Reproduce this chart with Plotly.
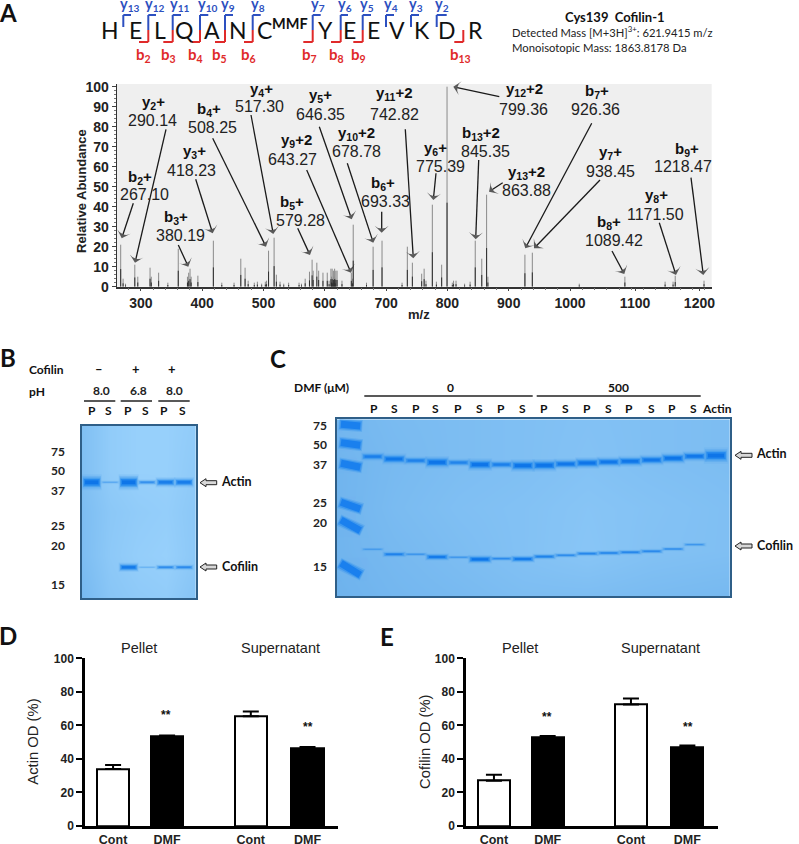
import plotly.graph_objects as go

W, H = 799, 844
ARIAL = "Liberation Sans"
CAL = "Lato"
BLUE = "#2d50c0"
RED = "#e02a2a"

# ---------- data: MS/MS spectrum ----------
peak_mz = [267.1, 271, 275, 290.14, 295, 315, 317, 329, 344, 361, 376, 378, 380.19, 382, 393, 418.23, 432, 452, 463, 470,
           475, 485, 490, 497, 503, 505, 508.25, 517.3, 521, 527, 533, 541, 558, 562, 568, 575, 579.28, 581, 587, 590,
           597, 604, 607, 610, 611, 612, 613, 614, 615, 616, 617, 618, 620, 628, 643.27, 645, 646.35, 668, 678.78, 693.33,
           726, 734.6, 742.82, 758, 762, 765, 775.39, 782, 790.6, 799.36, 808, 810, 814, 828, 837, 845.35, 856, 863.88, 866,
           926.36, 938.45, 1015, 1089.42, 1155, 1168, 1171.5, 1218.47]
peak_int = [21, 4, 1.5, 11, 5, 9.5, 5, 7, 2, 19, 5, 7, 9, 5, 5.5, 23, 2, 2, 14, 9.5,
            3, 2, 2.5, 1.5, 2.5, 3, 18, 24.5, 6, 2.5, 1.5, 2, 2, 1.5, 4, 7.5, 13.5, 8, 12, 8,
            7, 7, 3, 9, 5, 9, 4, 8, 5, 9, 4, 8, 8, 3, 7, 4, 31, 2, 20, 23,
            2, 20, 12, 6.5, 9, 3, 41, 2.5, 11, 100, 2, 3, 3, 1.5, 2.5, 23, 14, 46, 5,
            16, 17, 1.5, 5, 2.5, 2.5, 5.5, 3]
spec_tick_labels = ["300", "400", "500", "600", "700", "800", "900", "1000", "1100", "1200"]
spec_tick_vals = [300, 400, 500, 600, 700, 800, 900, 1000, 1106, 1211]
spec_y_ticks = [0, 10, 20, 30, 40, 50, 60, 70, 80, 90, 100]

# ---------- data: gels ----------
gel_b_actin = [1.0, 0.1, 1.0, 0.3, 0.6, 0.62]
gel_b_cofilin = [0, 0, 0.7, 0.05, 0.35, 0.38]
gel_b_actin_pos = 56.3
gel_b_cofilin_pos = 141.3
gel_b_bg = [[.55, .85, .95, .95, .85], [.55, .85, .95, .95, .8], [.5, .75, .85, .9, .75], [.5, .78, .9, .95, .75], [.4, .7, .8, .85, .65]]
gel_c_actin_pos = [37.3, 39.7, 41.3, 43, 43.3, 45.3, 45.3, 46.3, 46, 44.7, 43.7, 42.7, 42, 40.7, 39, 37, 36.3]
gel_c_actin = [.55, .8, .5, 1, .45, 1, .55, 1, 1, .75, .85, .75, .8, .75, .85, .75, 1.5]
gel_c_cofilin_pos = [130, 135, 135, 137.7, 138, 140, 139.3, 139.7, 137.3, 136, 134.3, 133.7, 133, 132, 129.7, 125.3]
gel_c_cofilin = [.15, .5, .22, .7, .2, .85, .35, .7, .5, .35, .42, .42, .42, .38, .3, .22]
ladder_left = [5, 23.3, 44, 83, 100.7, 144]
ladder_right = [6.7, 26, 48, 89.7, 111.3, 155.7]
gel_c_bg = [[.35, .45, .5, .55, .6, .55, .5],
            [.3, .42, .5, .55, .62, .55, .5],
            [.3, .45, .55, .6, .68, .62, .55],
            [.3, .4, .5, .6, .7, .6, .55],
            [.25, .35, .42, .5, .5, .45, .4]]
mw_b = ["75", "50", "37", "25", "20", "15"]
mw_c = ["75", "50", "37", "25", "20", "15"]
lane_labels_b = ["P", "S", "P", "S", "P", "S"]
lane_labels_c = ["P", "S", "P", "S", "P", "S", "P", "S", "P", "S", "P", "S", "P", "S", "P", "S", "Actin"]

# ---------- data: bar charts ----------
bar_labels = ["Cont", "DMF", "Cont", "DMF"]
bar_pos = [0, 1, 2.55, 3.6]
actin_od = [34, 53.5, 65.5, 46.5]
actin_err = [2.3, 0.5, 2.8, 0.6]
cofilin_od = [27, 53, 72.5, 47]
cofilin_err = [3.5, 0.7, 3.5, 1]
od_ticks = [0, 20, 40, 60, 80, 100]

# ---------- helpers ----------
def fx(x): return x / W
def fy(y): return 1 - y / H

ann = []
segs = {}

def txt(x, y, s, size=13, font=ARIAL, color="#111", anchor="center", angle=0):
    ann.append(dict(x=fx(x), y=fy(y), xref="paper", yref="paper", text=s, showarrow=False, textangle=angle,
                    xanchor=anchor, yanchor="middle", borderpad=0, borderwidth=0,
                    font=dict(size=size, family=font, color=color)))

def seg(x0, y0, x1, y1, color="#111", width=1.5):
    xs, ys = segs.setdefault((color, width), ([], []))
    xs += [x0, x1, None]; ys += [y0, y1, None]

def dom_x(a, b): return [fx(a), fx(b)]
def dom_y(top, bot): return [fy(bot), fy(top)]

fig = go.Figure()

# overlay axis in page pixels for the figure's decorations
def over(**kw):
    fig.add_trace(go.Scatter(xaxis="x6", yaxis="y6", showlegend=False, hoverinfo="skip", **kw))

def arrow(tail, tip):
    over(x=[tail[0], tip[0]], y=[tail[1], tip[1]], mode="lines+markers", line=dict(color="#1a1a1a", width=1.3),
         marker=dict(symbol="arrow-wide", size=[0, 10], angleref="previous", color="#1a1a1a", line=dict(width=0)))

def hollow(x0, x1, y):
    over(x=[x0, x0 + 6, x0 + 6, x1, x1, x0 + 6, x0 + 6, x0], y=[y, y - 4, y - 2, y - 2, y + 2, y + 2, y + 4, y],
         mode="lines", fill="toself", fillcolor="#d8d8d8", line=dict(color="#222", width=1))

# ---------- A: sequence ----------
for s, x in zip(["H", "E", "L", "Q", "A", "N", "C", "Y", "E", "E", "V", "K", "D", "R"],
                [110, 135.7, 160, 184, 211.7, 238, 264, 325, 349, 373.3, 397, 422, 447, 475]):
    txt(x, 30, s, 23, CAL, "#111")
txt(290, 23, "<b>MMF</b>", 14.5, CAL)
for x, r, l in [(148.3, 156, 139), (172.7, 181, 163.3), (200, 208.3, 191.7), (225, 233, 215), (252.7, 260.7, 244),
                (312.7, 320.7, 303.3), (340.7, 348, 331), (362.7, 371, 353.3)]:
    seg(x, 15, x, 30, BLUE, 2); seg(x, 15, r, 15, BLUE, 2)
    seg(x, 30, x, 42, RED, 2); seg(x, 42, l, 42, RED, 2)
for x, r in [(123.3, 131), (386, 394), (411, 419), (436.7, 446.7)]:
    seg(x, 15, x, 27, BLUE, 2); seg(x, 15, r, 15, BLUE, 2)
seg(463.3, 30, 463.3, 42, RED, 2); seg(463.3, 42, 454.3, 42, RED, 2)
for n, x in zip(["13", "12", "11", "10", "9", "8", "7", "6", "5", "4", "3", "2"],
                [130, 155, 180, 207.7, 228.3, 258.3, 317.7, 345, 366.7, 390.7, 416, 442.3]):
    txt(x, 4.5, f"<b>y<sub>{n}</sub></b>", 14.5, CAL, BLUE)
for n, x in zip(["2", "3", "4", "5", "6", "7", "8", "9", "13"],
                [143.3, 168.3, 195, 219.3, 248.3, 309, 336.7, 358.3, 460]):
    txt(x, 55, f"<b>b<sub>{n}</sub></b>", 15, CAL, RED)
txt(615, 16.7, "<b>Cys139  Cofilin-1</b>", 13, CAL)
txt(511.7, 32, "Detected Mass [M+3H]<sup>3+</sup>: 621.9415 m/z", 11.2, CAL, "#222", "left")
txt(511.7, 47.7, "Monoisotopic Mass: 1863.8178 Da", 11.3, CAL, "#222", "left")

# ---------- A: spectrum ----------
xs, ys, xd, yd = [], [], [], []
for m, v in zip(peak_mz, peak_int):
    xs += [m, m, None]; ys += [0, v, None]
    xd += [m, m, None]; yd += [0, v * 0.42, None]
fig.add_trace(go.Scatter(x=xs, y=ys, mode="lines", line=dict(color="#8a8a8a", width=1), xaxis="x", yaxis="y",
                         showlegend=False, hoverinfo="skip"))
fig.add_trace(go.Scatter(x=xd, y=yd, mode="lines", line=dict(color="#2e2e2e", width=1), xaxis="x", yaxis="y",
                         showlegend=False, hoverinfo="skip"))

labels = [
    ("y<sub>2</sub>+", "290.14", (153.3, 102.3), (152.7, 120), (166, 129.3), (135, 262.7)),
    ("b<sub>2</sub>+", "267.10", (140, 177.7), (144, 194.3), (133.3, 203.3), (121.7, 238.3)),
    ("b<sub>3</sub>+", "380.19", (176, 217.7), (180, 235.7), (178.3, 245), (188.3, 266.7)),
    ("y<sub>3</sub>+", "418.23", (194.3, 151), (191.7, 170), (195.7, 179.3), (212.7, 233.3)),
    ("b<sub>4</sub>+", "508.25", (209.3, 109.3), (212.7, 127.7), (212.7, 138.3), (266, 246.7)),
    ("y<sub>4</sub>+", "517.30", (261.7, 89.3), (259, 106.7), (251, 115), (273.3, 234)),
    ("b<sub>5</sub>+", "579.28", (291.7, 202.3), (300, 220), (297.7, 228.3), (310, 255)),
    ("y<sub>9</sub>+2", "643.27", (296, 140), (292.7, 160), (306.7, 170), (351, 272.7)),
    ("y<sub>5</sub>+", "646.35", (320, 96), (320, 115), (319.3, 126.7), (351.7, 219.3)),
    ("y<sub>10</sub>+2", "678.78", (356.7, 133.3), (356, 151.7), (347.3, 163.3), (373.3, 242.7)),
    ("b<sub>6</sub>+", "693.33", (382.7, 183.3), (385.5, 201.7), (381.7, 211.7), (381.7, 232.7)),
    ("y<sub>11</sub>+2", "742.82", (394.5, 94), (394.5, 114), (405.3, 129.3), (413.3, 258.3)),
    ("y<sub>6</sub>+", "775.39", (435, 148.3), (440, 166.7), (436, 173.3), (433.3, 200)),
    ("y<sub>12</sub>+2", "799.36", (524.3, 89.3), (523.3, 109.3), (499.3, 96.7), (453.3, 86.7)),
    ("b<sub>13</sub>+2", "845.35", (480.7, 133.3), (485.3, 151.7), (478.7, 160), (475.7, 239.3)),
    ("y<sub>13</sub>+2", "863.88", (526, 172), (526.7, 190), (502.7, 182.7), (489, 191.7)),
    ("b<sub>7</sub>+", "926.36", (596.7, 91.7), (595, 110), (591.7, 123.3), (525.3, 248.3)),
    ("y<sub>7</sub>+", "938.45", (610, 152.7), (610.7, 171.7), (600, 180), (534, 248.3)),
    ("b<sub>8</sub>+", "1089.42", (609.3, 222.3), (614.3, 240.7), (612, 251), (624.3, 274)),
    ("y<sub>8</sub>+", "1171.50", (656.7, 195), (655.7, 214.3), (659.3, 222.7), (676, 275)),
    ("b<sub>9</sub>+", "1218.47", (686.7, 149.3), (682.7, 166.7), (691, 177.7), (703.3, 275)),
]
for name, val, p1, p2, tail, tip in labels:
    txt(p1[0], p1[1], f"<b>{name}</b>", 15, ARIAL, "#111")
    txt(p2[0], p2[1], val, 16, ARIAL, "#222")
txt(82, 191, "<b>Relative Abundance</b>", 13, ARIAL, "#222", angle=-90)
txt(419, 314, "<b>m/z</b>", 13, ARIAL, "#222")

# ---------- gel helper ----------
def band(xa, ya, x, y, hw, thick, s):
    fade = min(1, .12 + s)
    layers = [(1.2, 2.1, "#5aa8f0", .22), (1.12, 1.65, "#4aa0ee", .35), (1.04, 1.25, "#3597ef", .55),
              (.95, .9, "#1f86ee", .85), (.8, .5, "#0d74e8", .95)]
    for k, w, c, op in layers:
        fig.add_trace(go.Scatter(x=[x - hw * k, x + hw * k], y=[y, y], mode="lines", opacity=op * fade,
                                 line=dict(color=c, width=max(thick * w, .6)), xaxis=xa, yaxis=ya,
                                 showlegend=False, hoverinfo="skip"))

GEL_SCALE = [[0, "#5fa8e8"], [1, "#9ad2fc"]]

# ---------- B: gel ----------
fig.add_trace(go.Heatmap(z=gel_b_bg, x=[.475, 2, 3.5, 5, 6.63], y=[0, 43, 86, 129, 172.3], zmin=0, zmax=1, zsmooth="best",
                         colorscale=GEL_SCALE, showscale=False, xaxis="x2", yaxis="y2", hoverinfo="skip"))
for i, s in enumerate(gel_b_actin):
    band("x2", "y2", i + 1, gel_b_actin_pos, .45, 1 + 6.5 * s, s)
for i, s in enumerate(gel_b_cofilin):
    if s:
        band("x2", "y2", i + 1, gel_b_cofilin_pos, .45, 1 + 5 * s, s)

txt(8, 357, "<b>B</b>", 24, CAL, "#111")
txt(46.7, 369.3, "<b>Cofilin</b>", 12, CAL)
txt(29, 391.7, "<b>pH</b>", 12, CAL, "#111", "left")
for s, x in zip(["–", "+", "+"], [99.3, 135.7, 172.3]):
    txt(x, 369, f"<b>{s}</b>", 13, CAL)
for s, x in zip(["8.0", "6.8", "8.0"], [101, 138, 174.3]):
    txt(x, 390.7, f"<b>{s}</b>", 12, CAL, "#222")
for a, b in [(84, 115.3), (120.7, 152), (158.3, 189.7)]:
    seg(a, 401, b, 401, "#222", 1.5)
for s, x in zip(lane_labels_b, [91.7, 109, 127.7, 145.7, 164, 182.3]):
    txt(x, 410.7, f"<b>{s}</b>", 12, CAL)
for s, y in zip(mw_b, [451.7, 470.7, 490, 525.7, 545, 584]):
    txt(58.3, y, f"<b>{s}</b>", 12, CAL, "#222")
txt(236.7, 482, "<b>Actin</b>", 12.5, CAL)
txt(240, 566.7, "<b>Cofilin</b>", 12.5, CAL)

# ---------- C: gel ----------
fig.add_trace(go.Heatmap(z=gel_c_bg, x=[-.678, 2, 5, 8, 11, 14, 17.65], y=[0, 44, 88, 132, 176.7], zmin=0, zmax=1, zsmooth="best",
                         colorscale=GEL_SCALE, showscale=False, xaxis="x3", yaxis="y3", hoverinfo="skip"))
for a, b in zip(ladder_left, ladder_right):
    fig.add_trace(go.Scatter(x=[-.58, .52], y=[a, b], mode="lines", opacity=.35, line=dict(color="#3b96ee", width=12),
                             xaxis="x3", yaxis="y3", showlegend=False, hoverinfo="skip"))
    fig.add_trace(go.Scatter(x=[-.54, .48], y=[a, b], mode="lines", opacity=.6, line=dict(color="#2a8cee", width=9.5),
                             xaxis="x3", yaxis="y3", showlegend=False, hoverinfo="skip"))
    fig.add_trace(go.Scatter(x=[-.48, .42], y=[a, b], mode="lines", line=dict(color="#1a80ee", width=7),
                             xaxis="x3", yaxis="y3", showlegend=False, hoverinfo="skip"))
for i, (p, s) in enumerate(zip(gel_c_actin_pos, gel_c_actin)):
    band("x3", "y3", i + 1, p, .47, 2.5 + 3.5 * s, s)
for i, (p, s) in enumerate(zip(gel_c_cofilin_pos, gel_c_cofilin)):
    band("x3", "y3", i + 1, p, .47, 1.2 + 3.5 * s, s)

txt(278, 358, "<b>C</b>", 24, CAL, "#111")
txt(321.7, 387.7, "<b>DMF (μM)</b>", 12, CAL)
txt(450.7, 387.7, "<b>0</b>", 12, CAL)
txt(618.3, 387.7, "<b>500</b>", 12, CAL)
seg(364.3, 396, 532.7, 396, "#222", 1.5)
seg(536.7, 396, 700.7, 396, "#222", 1.5)
for s, x in zip(lane_labels_c, [374, 394, 416, 436, 458.3, 479, 501, 522.7, 544.3, 565, 587.3, 608.7, 629.3, 651, 671.7, 693.3, 716.7]):
    txt(x, 408.7, f"<b>{s}</b>", 12, CAL)
for s, y in zip(mw_c, [425, 444, 464, 502.3, 522.3, 566.7]):
    txt(320, y, f"<b>{s}</b>", 12, CAL, "#222")
txt(771.7, 454, "<b>Actin</b>", 12.5, CAL)
txt(775, 545, "<b>Cofilin</b>", 12.5, CAL)

# ---------- D/E: bars ----------
for vals, errs, xa, ya in [(actin_od, actin_err, "x4", "y4"), (cofilin_od, cofilin_err, "x5", "y5")]:
    fig.add_trace(go.Bar(x=bar_pos, y=vals, width=.6, xaxis=xa, yaxis=ya, showlegend=False, hoverinfo="skip",
                         marker=dict(color=["#ffffff", "#000000", "#ffffff", "#000000"], line=dict(color="#000", width=2)),
                         error_y=dict(type="data", symmetric=False, array=errs, arrayminus=[0] * 4,
                                      color="#000", thickness=2, width=8)))
txt(8.3, 635, "<b>D</b>", 24, CAL, "#111")
txt(387, 636, "<b>E</b>", 24, CAL, "#111")
txt(8, 13, "<b>A</b>", 24, CAL, "#111")
for x1, x2_, s1, s2 in [(139, 280, (166, 715), (308, 726.7)), (520, 660.7, (547.3, 716.7), (688.3, 726.7))]:
    txt(x1, 648, "Pellet", 14.5, ARIAL, "#222")
    txt(x2_, 648, "Supernatant", 14.5, ARIAL, "#222")
    txt(s1[0], s1[1], "<b>**</b>", 12, ARIAL)
    txt(s2[0], s2[1], "<b>**</b>", 12, ARIAL)
txt(33, 741.7, "Actin OD (%)", 14.8, ARIAL, "#222", angle=-90)
txt(424.3, 741.7, "Cofilin OD (%)", 14.8, ARIAL, "#222", angle=-90)

# decorations drawn on the overlay
for name, val, p1, p2, tail, tip in labels:
    arrow(tail, tip)
hollow(200, 216.7, 482.7); hollow(200, 216.7, 567)
hollow(735, 752, 455.3); hollow(735, 752, 546)
for (color, width), (xs_, ys_) in segs.items():
    over(x=xs_, y=ys_, mode="lines", line=dict(color=color, width=width))

def gel_axes(a, b, top, bot, xr, yr):
    ax = dict(domain=dom_x(a, b), range=xr, showgrid=False, zeroline=False, showticklabels=False, ticks="",
              showline=True, mirror=True, linecolor="#2f5f88", linewidth=1.5)
    ay = dict(domain=dom_y(top, bot), range=yr, showgrid=False, zeroline=False, showticklabels=False, ticks="",
              showline=True, mirror=True, linecolor="#2f5f88", linewidth=1.5)
    return ax, ay

def bar_axes(a, b, ya_name, xa_name):
    ax = dict(domain=dom_x(a, b), range=[-.52, 4.17], anchor=ya_name, showgrid=False, zeroline=False,
              tickvals=bar_pos, ticktext=bar_labels, ticks="", showline=True, linecolor="#000", linewidth=2.5,
              tickfont=dict(family=ARIAL, size=12.5, color="#222", weight="bold"))
    ay = dict(domain=dom_y(658.3, 826), range=[0, 100], anchor=xa_name, showgrid=False, zeroline=False,
              tickvals=od_ticks, ticks="outside", ticklen=6, tickwidth=2, tickcolor="#000",
              showline=True, linecolor="#000", linewidth=2.5,
              tickfont=dict(family=ARIAL, size=12, color="#222", weight="bold"))
    return ax, ay

x2, y2 = gel_axes(82, 195.7, 426, 598.3, [.475, 6.63], [172.3, 0])
x3, y3 = gel_axes(336.7, 730, 419.3, 596, [-.678, 17.65], [176.7, 0])
x4, y4 = bar_axes(85, 338.3, "y4", "x4")
x5, y5 = bar_axes(466, 718, "y5", "x5")
x2.update(anchor="y2"); y2.update(anchor="x2"); x3.update(anchor="y3"); y3.update(anchor="x3")

fig.update_layout(
    template=None,
    width=W, height=H, margin=dict(l=0, r=0, t=0, b=0), autosize=False,
    paper_bgcolor="#ffffff", plot_bgcolor="rgba(0,0,0,0)", showlegend=False, bargap=0,
    annotations=ann,
    shapes=[dict(type="rect", xref="x domain", yref="y domain", x0=0, x1=1, y0=0, y1=1, layer="below",
                 fillcolor="#efefef", line=dict(width=0))],
    xaxis=dict(domain=dom_x(116.7, 711.7), range=[260.6, 1231], anchor="y", showgrid=False, zeroline=False,
               tickvals=spec_tick_vals, ticktext=spec_tick_labels, ticks="outside", ticklen=3, tickwidth=1, tickcolor="#444",
               minor=dict(dtick=20, ticks="outside", ticklen=2, tickcolor="#777", tickwidth=1),
               showline=True, linecolor="#333", linewidth=1.5,
               tickfont=dict(family=ARIAL, size=14, color="#222", weight="bold")),
    yaxis=dict(domain=dom_y(84, 286.7), range=[0, 101.35], anchor="x", showgrid=False, zeroline=False,
               tickvals=spec_y_ticks, ticks="outside", ticklen=4, tickwidth=1, tickcolor="#444",
               minor=dict(dtick=2, ticks="outside", ticklen=2, tickcolor="#777", tickwidth=1),
               showline=True, linecolor="#333", linewidth=1,
               tickfont=dict(family=ARIAL, size=14, color="#222", weight="bold")),
    xaxis2=x2, yaxis2=y2, xaxis3=x3, yaxis3=y3, xaxis4=x4, yaxis4=y4, xaxis5=x5, yaxis5=y5,
    xaxis6=dict(domain=[0, 1], range=[0, W], visible=False, anchor="y6", fixedrange=True),
    yaxis6=dict(domain=[0, 1], range=[H, 0], visible=False, anchor="x6", fixedrange=True),
)
fig.write_html("out.html", config={"displayModeBar": False},
               post_script="document.body.style.margin='0';document.documentElement.style.overflow='hidden';")
